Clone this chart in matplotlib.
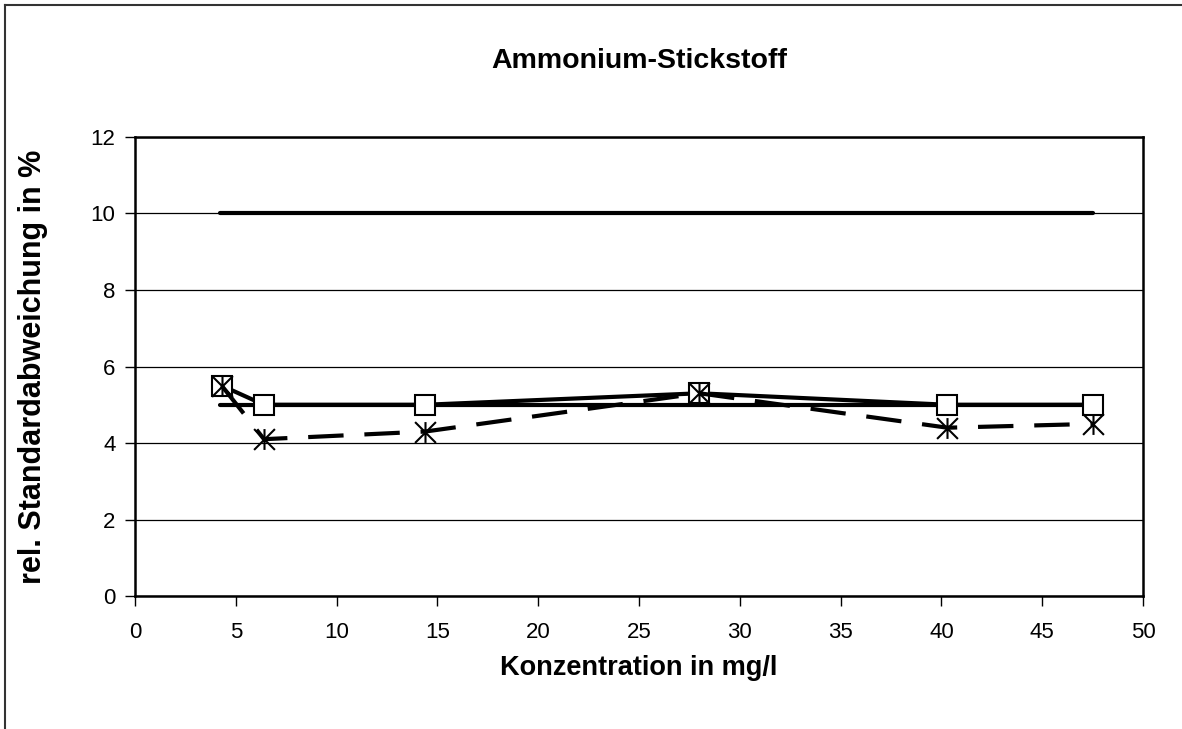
import matplotlib.pyplot as plt
from matplotlib.path import Path
from matplotlib.lines import Line2D

plt.rcParams['font.family'] = ['Liberation Sans', 'DejaVu Sans']

# Data
conc = [4.3, 6.4, 14.4, 28.0, 40.3, 47.5]
rsd_measured = [5.5, 5.0, 5.0, 5.3, 5.0, 5.0]
rsd_second = [5.5, 4.1, 4.3, 5.3, 4.4, 4.5]
limit_x = [4.2, 47.5]
limit_upper = [10, 10]
limit_lower = [5, 5]

# asterisk marker like Excel: vertical bar plus X
star = Path([(0, -1), (0, 1), (-1, -1), (1, 1), (-1, 1), (1, -1)],
            [Path.MOVETO, Path.LINETO, Path.MOVETO, Path.LINETO, Path.MOVETO, Path.LINETO])

fig = plt.figure(figsize=(11.82, 7.29), dpi=100)
ax = fig.add_axes([0.1142, 0.1824, 0.8528, 0.6297])

ax.plot(limit_x, limit_upper, color='black', lw=3, solid_capstyle='round', zorder=3)
ax.plot(limit_x, limit_lower, color='black', lw=3, solid_capstyle='round', zorder=3)
ax.plot(conc, rsd_measured, color='black', lw=3, marker='s', ms=14,
        mfc='white', mec='black', mew=1.5, zorder=4)
ax.plot(conc, rsd_second, color='black', lw=3, ls=(0, (8.5, 5)), marker=star, ms=15,
        mfc='none', mec='black', mew=1.5, zorder=5)

ax.set_xlim(0, 50)
ax.set_ylim(0, 12)
ax.set_xticks(range(0, 51, 5))
ax.set_yticks(range(0, 13, 2))
ax.yaxis.grid(True, color='black', lw=0.9)
ax.set_axisbelow(True)
for s in ax.spines.values():
    s.set_linewidth(1.8)
ax.tick_params(axis='both', direction='out', length=7, width=1, labelsize=16, colors='black')
ax.tick_params(axis='x', pad=12)
ax.tick_params(axis='y', pad=7)

ax.set_title('Ammonium-Stickstoff', fontsize=20.5, fontweight='bold', pad=50)
ax.set_xlabel('Konzentration in mg/l', fontsize=19.5, fontweight='bold', labelpad=8)
ax.set_ylabel('rel. Standardabweichung in %', fontsize=22, fontweight='bold', labelpad=31)

# outer chart frame (top and left visible)
fig.add_artist(Line2D([5 / 1182, 5 / 1182], [0, 1 - 5 / 729], color='#333333', lw=1.5,
                      transform=fig.transFigure))
fig.add_artist(Line2D([5 / 1182, 1], [1 - 5 / 729, 1 - 5 / 729], color='#333333', lw=1.5,
                      transform=fig.transFigure))

fig.savefig('out.png', dpi=100)
